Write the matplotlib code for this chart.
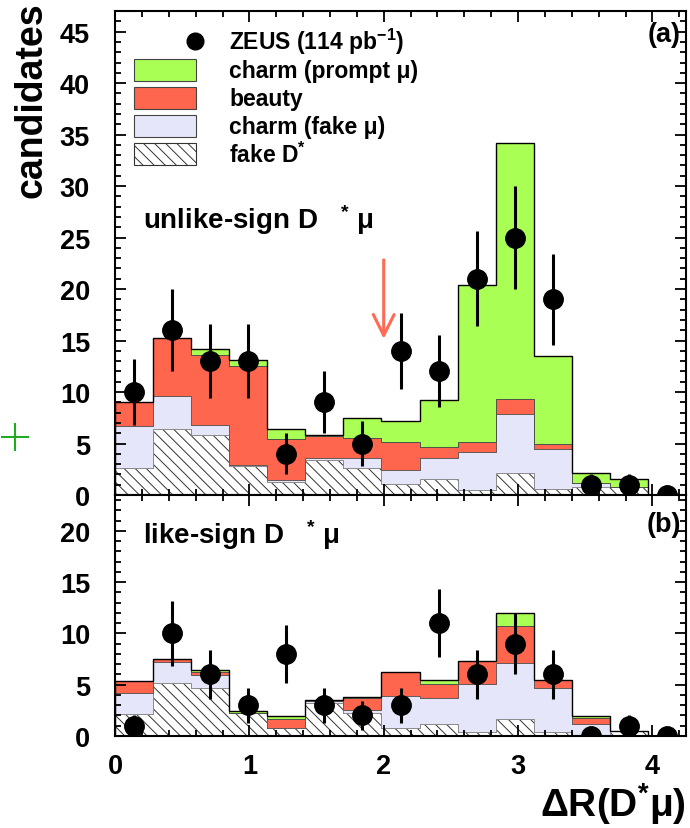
import numpy as np
import matplotlib.pyplot as plt
from matplotlib.lines import Line2D
from matplotlib.patches import Rectangle
from matplotlib.ticker import MultipleLocator

plt.rcParams['font.family'] = ['Liberation Sans', 'DejaVu Sans']
plt.rcParams['font.weight'] = 'bold'
plt.rcParams['mathtext.fontset'] = 'custom'
plt.rcParams['mathtext.rm'] = 'Liberation Sans:bold'
plt.rcParams['mathtext.it'] = 'Liberation Sans:bold'
plt.rcParams['mathtext.bf'] = 'Liberation Sans:bold'
plt.rcParams['hatch.linewidth'] = 0.7

# 15 bins in dR(D* mu) from 0 to 4.25
edges = np.linspace(0, 4.25, 16)
centers = 0.5 * (edges[:-1] + edges[1:])

# (a) unlike-sign
data_a = [10, 16, 13, 13, 4, 9, 5, 14, 12, 21, 25, 19, 1, 1, 0]
err_a = [3.2, 4.0, 3.6, 3.6, 2.0, 3.0, 2.2, 3.7, 3.5, 4.6, 5.0, 4.4, 1.0, 1.0, 0]
fakeD_a = [2.6, 6.4, 5.8, 2.85, 1.3, 3.4, 2.6, 1.05, 1.55, 0.5, 2.15, 0.6, 0.8, 0.75, 0]
cfake_a = [4.1, 3.2, 1.0, 0.05, 0.2, 0.15, 0.95, 1.4, 2.05, 3.65, 5.75, 3.85, 0.4, 0.05, 0]
beauty_a = [2.3, 5.6, 6.8, 9.65, 3.9, 2.2, 1.95, 2.65, 1.1, 0.95, 1.4, 0.55, 0, 0, 0]
prompt_a = [0, 0, 0.6, 0.55, 1.0, 0.1, 2.0, 2.05, 4.5, 15.3, 24.9, 8.5, 0.95, 0.75, 0]

# (b) like-sign
data_b = [1, 10, 6, 3, 8, 3, 2, 3, 11, 6, 9, 6, 0, 1, 0]
err_b = [1.0, 3.2, 2.4, 1.7, 2.8, 1.7, 1.4, 1.7, 3.3, 2.4, 3.0, 2.4, 0, 1.0, 0]
fakeD_b = [2.1, 5.15, 4.7, 2.2, 0.8, 3.2, 2.25, 0.8, 1.15, 0.4, 1.65, 0.4, 0, 0.45, 0]
cfake_b = [2.1, 2.1, 1.25, 0, 0, 0.25, 0.3, 3.1, 2.55, 4.65, 5.45, 4.25, 1.15, 0.05, 0]
beauty_b = [1.15, 0.25, 0.25, 0.05, 0.85, 0, 1.2, 2.35, 1.4, 2.3, 3.65, 0.85, 0.6, 0, 0]
prompt_b = [0, 0, 0.25, 0.2, 0.25, 0.05, 0.05, 0, 0.4, 0, 1.2, 0, 0.2, 0, 0]

green = '#aaff55'
red = '#ff664d'
lav = '#e6e6fa'
hatch = '\\\\\\'

fig = plt.figure(figsize=(6.9, 8.29), dpi=100)
ax1 = fig.add_axes([0.1667, 0.4017, 0.8275, 0.5838])
ax2 = fig.add_axes([0.1667, 0.111, 0.8275, 0.2907])


def draw(ax, fakeD, cfake, beauty, prompt, n, err):
    b0 = np.zeros(len(fakeD))
    b1 = b0 + fakeD
    b2 = b1 + cfake
    b3 = b2 + beauty
    b4 = b3 + prompt
    ax.stairs(b1, edges, baseline=b0, fill=True, facecolor='white',
              edgecolor='#333333', hatch=hatch, lw=0.5)
    ax.stairs(b2, edges, baseline=b1, fill=True, facecolor=lav,
              edgecolor='#888888', lw=0.6)
    ax.stairs(b3, edges, baseline=b2, fill=True, facecolor=red,
              edgecolor='#555555', lw=0.6)
    ax.stairs(b4, edges, baseline=b3, fill=True, facecolor=green,
              edgecolor='#444444', lw=0.6)
    ax.stairs(b4, edges, color='black', lw=1.0)
    ax.errorbar(centers, n, yerr=err, fmt='o', color='black', ms=14,
                elinewidth=2.2, capsize=0, zorder=5)


draw(ax1, fakeD_a, cfake_a, beauty_a, prompt_a, data_a, err_a)
draw(ax2, fakeD_b, cfake_b, beauty_b, prompt_b, data_b, err_b)

ax1.set_ylim(0, 47)
ax2.set_ylim(0, 23.5)
for ax in (ax1, ax2):
    ax.set_xlim(0, 4.25)
    ax.xaxis.set_major_locator(MultipleLocator(1))
    ax.xaxis.set_minor_locator(MultipleLocator(0.2))
    ax.yaxis.set_major_locator(MultipleLocator(5))
    ax.yaxis.set_minor_locator(MultipleLocator(1))
    ax.tick_params(which='both', direction='in', top=True, right=True, width=1.3,
                   labelsize=19.5)
    ax.tick_params(which='major', length=8)
    ax.tick_params(which='minor', length=4)
    ax.tick_params(axis='y', pad=18)
    ax.tick_params(axis='x', pad=12)
    for s in ax.spines.values():
        s.set_linewidth(1.5)
ax1.tick_params(labelbottom=False)
ax1.set_yticks(range(0, 50, 5))
ax2.set_yticks(range(0, 25, 5))

# legend
leg_y = [0.938, 0.878, 0.820, 0.762, 0.7045]
leg_txt = ['ZEUS (114 pb$^{-1}$)', 'charm (prompt μ)', 'beauty',
           'charm (fake μ)', 'fake D$^{*}$']
ax1.add_line(Line2D([0.140], [leg_y[0]], marker='o', ms=12, color='black',
                    transform=ax1.transAxes))
styles = [dict(facecolor=green, edgecolor='#444444'),
          dict(facecolor=red, edgecolor='#444444'),
          dict(facecolor=lav, edgecolor='#444444'),
          dict(facecolor='white', edgecolor='#333333', hatch=hatch)]
for yy, st in zip(leg_y[1:], styles):
    ax1.add_patch(Rectangle((0.0333, yy - 0.0227), 0.1086, 0.0455,
                            transform=ax1.transAxes, lw=0.8, **st))
for yy, t in zip(leg_y, leg_txt):
    ax1.text(0.1997, yy, t, transform=ax1.transAxes, fontsize=16.5,
             fontweight='bold', va='center', ha='left')

ax1.text(0.049, 0.5517, 'unlike-sign D   $^{*}$ μ', transform=ax1.transAxes,
         fontsize=20, fontweight='bold', va='baseline')
ax2.text(0.049, 0.801, 'like-sign D   $^{*}$ μ', transform=ax2.transAxes,
         fontsize=20, fontweight='bold', va='baseline')
ax1.text(0.991, 0.9525, '(a)', transform=ax1.transAxes, fontsize=19.5,
         fontweight='bold', ha='right', va='center')
ax2.text(0.991, 0.88, '(b)', transform=ax2.transAxes, fontsize=19.5,
         fontweight='bold', ha='right', va='center')

ax1.annotate('', xy=(2.0, 14.9), xytext=(2.0, 23.1),
             arrowprops=dict(arrowstyle='->,head_length=0.6,head_width=0.3',
                             color='#ff6a55', lw=2.2, mutation_scale=25))

ax2.set_xlabel('ΔR(D$^{*}$μ)', loc='right', fontsize=28, fontweight='bold',
               labelpad=1)
fig.text(32 / 690, 1 - 2 / 829, 'candidates', rotation=90, fontsize=27,
         fontweight='bold', ha='center', va='top')

fig.add_artist(Line2D([15 / 690], [1 - 438 / 829], marker='+', ms=20, mew=1.5,
                      color='#22aa22', transform=fig.transFigure))

fig.savefig('out.png', dpi=100)
